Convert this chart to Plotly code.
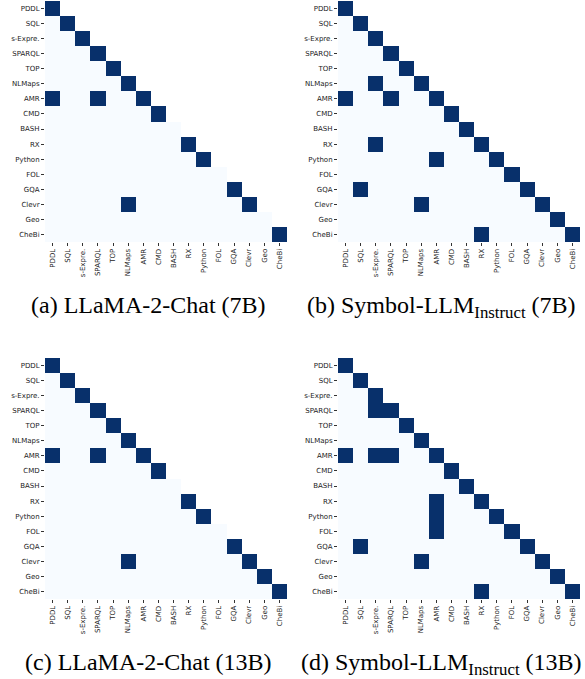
import plotly.graph_objects as go

labels = ["PDDL", "SQL", "s-Expre.", "SPARQL", "TOP", "NLMaps", "AMR", "CMD",
          "BASH", "RX", "Python", "FOL", "GQA", "Clevr", "Geo", "CheBi"]

# lower-triangular rows (row i has i+1 values), 1 = dark cell
llama_7b = [
    [1],
    [0, 1],
    [0, 0, 1],
    [0, 0, 0, 1],
    [0, 0, 0, 0, 1],
    [0, 0, 0, 0, 0, 1],
    [1, 0, 0, 1, 0, 0, 1],
    [0, 0, 0, 0, 0, 0, 0, 1],
    [0, 0, 0, 0, 0, 0, 0, 0, 0],
    [0, 0, 0, 0, 0, 0, 0, 0, 0, 1],
    [0, 0, 0, 0, 0, 0, 0, 0, 0, 0, 1],
    [0, 0, 0, 0, 0, 0, 0, 0, 0, 0, 0, 0],
    [0, 0, 0, 0, 0, 0, 0, 0, 0, 0, 0, 0, 1],
    [0, 0, 0, 0, 0, 1, 0, 0, 0, 0, 0, 0, 0, 1],
    [0, 0, 0, 0, 0, 0, 0, 0, 0, 0, 0, 0, 0, 0, 0],
    [0, 0, 0, 0, 0, 0, 0, 0, 0, 0, 0, 0, 0, 0, 0, 1],
]

symbol_7b = [
    [1],
    [0, 1],
    [0, 0, 1],
    [0, 0, 0, 1],
    [0, 0, 0, 0, 1],
    [0, 0, 1, 0, 0, 1],
    [1, 0, 0, 1, 0, 0, 1],
    [0, 0, 0, 0, 0, 0, 0, 1],
    [0, 0, 0, 0, 0, 0, 0, 0, 1],
    [0, 0, 1, 0, 0, 0, 0, 0, 0, 1],
    [0, 0, 0, 0, 0, 0, 1, 0, 0, 0, 1],
    [0, 0, 0, 0, 0, 0, 0, 0, 0, 0, 0, 1],
    [0, 1, 0, 0, 0, 0, 0, 0, 0, 0, 0, 0, 1],
    [0, 0, 0, 0, 0, 1, 0, 0, 0, 0, 0, 0, 0, 1],
    [0, 0, 0, 0, 0, 0, 0, 0, 0, 0, 0, 0, 0, 0, 1],
    [0, 0, 0, 0, 0, 0, 0, 0, 0, 1, 0, 0, 0, 0, 0, 1],
]

llama_13b = [
    [1],
    [0, 1],
    [0, 0, 1],
    [0, 0, 0, 1],
    [0, 0, 0, 0, 1],
    [0, 0, 0, 0, 0, 1],
    [1, 0, 0, 1, 0, 0, 1],
    [0, 0, 0, 0, 0, 0, 0, 1],
    [0, 0, 0, 0, 0, 0, 0, 0, 0],
    [0, 0, 0, 0, 0, 0, 0, 0, 0, 1],
    [0, 0, 0, 0, 0, 0, 0, 0, 0, 0, 1],
    [0, 0, 0, 0, 0, 0, 0, 0, 0, 0, 0, 0],
    [0, 0, 0, 0, 0, 0, 0, 0, 0, 0, 0, 0, 1],
    [0, 0, 0, 0, 0, 1, 0, 0, 0, 0, 0, 0, 0, 1],
    [0, 0, 0, 0, 0, 0, 0, 0, 0, 0, 0, 0, 0, 0, 1],
    [0, 0, 0, 0, 0, 0, 0, 0, 0, 0, 0, 0, 0, 0, 0, 1],
]

symbol_13b = [
    [1],
    [0, 1],
    [0, 0, 1],
    [0, 0, 1, 1],
    [0, 0, 0, 0, 1],
    [0, 0, 0, 0, 0, 1],
    [1, 0, 1, 1, 0, 0, 1],
    [0, 0, 0, 0, 0, 0, 0, 1],
    [0, 0, 0, 0, 0, 0, 0, 0, 1],
    [0, 0, 0, 0, 0, 0, 1, 0, 0, 1],
    [0, 0, 0, 0, 0, 0, 1, 0, 0, 0, 1],
    [0, 0, 0, 0, 0, 0, 1, 0, 0, 0, 0, 1],
    [0, 1, 0, 0, 0, 0, 0, 0, 0, 0, 0, 0, 1],
    [0, 0, 0, 0, 0, 1, 0, 0, 0, 0, 0, 0, 0, 1],
    [0, 0, 0, 0, 0, 0, 0, 0, 0, 0, 0, 0, 0, 0, 1],
    [0, 0, 0, 0, 0, 0, 0, 0, 0, 1, 0, 0, 0, 0, 0, 1],
]

captions = [
    "(a) LLaMA-2-Chat (7B)",
    "(b) Symbol-LLM<sub>Instruct</sub> (7B)",
    "(c) LLaMA-2-Chat (13B)",
    "(d) Symbol-LLM<sub>Instruct</sub> (13B)",
]

W, H = 585, 679
n = len(labels)


def full(rows):
    return [list(r) + [None] * (n - len(r)) for r in rows]


# panel pixel boxes: (left, right, top, bottom)
boxes = [(45, 287, 1, 242), (338, 580, 1, 242),
         (45, 287, 358, 599), (338, 580, 358, 599)]
cap_pos = [(148, 290), (441, 290), (148, 647), (441, 647)]  # center x, top y
mats = [llama_7b, symbol_7b, llama_13b, symbol_13b]

fig = go.Figure()
layout = dict(template="none", width=W, height=H,
              margin=dict(l=0, r=0, t=0, b=0, autoexpand=False),
              paper_bgcolor="white", plot_bgcolor="white", showlegend=False,
              annotations=[])

for k, (m, (l, r, t, b)) in enumerate(zip(mats, boxes)):
    sx = "" if k == 0 else str(k + 1)
    fig.add_trace(go.Heatmap(
        z=full(m), x=labels, y=labels,
        colorscale=[[0, "#f7fbff"], [1, "#08306b"]], zmin=0, zmax=1,
        showscale=False, xaxis="x" + sx, yaxis="y" + sx, hoverongaps=False,
    ))
    common = dict(showgrid=False, zeroline=False, showline=False,
                  automargin=False,
                  ticks="outside", ticklen=3, tickwidth=1, tickcolor="#333",
                  tickfont=dict(family="DejaVu Sans", size=7, color="#222"),
                  fixedrange=True)
    layout["xaxis" + sx] = dict(domain=[l / W, r / W], anchor="y" + sx,
                                tickangle=-90, range=[-0.5, n - 0.5],
                                type="category", **common)
    layout["yaxis" + sx] = dict(domain=[1 - b / H, 1 - t / H], anchor="x" + sx,
                                range=[n - 0.5, -0.5], type="category", **common)
    cx, cy = cap_pos[k]
    layout["annotations"].append(dict(
        text=captions[k], x=cx / W, y=1 - cy / H, xref="paper", yref="paper",
        showarrow=False, xanchor="center", yanchor="top",
        font=dict(family="Liberation Serif, Times New Roman, serif", size=24,
                  color="black")))

fig.update_layout(**layout)
fig.write_html("out.html", config={"displayModeBar": False},
               post_script="document.body.style.margin='0';"
                           "document.body.style.overflow='hidden';")
